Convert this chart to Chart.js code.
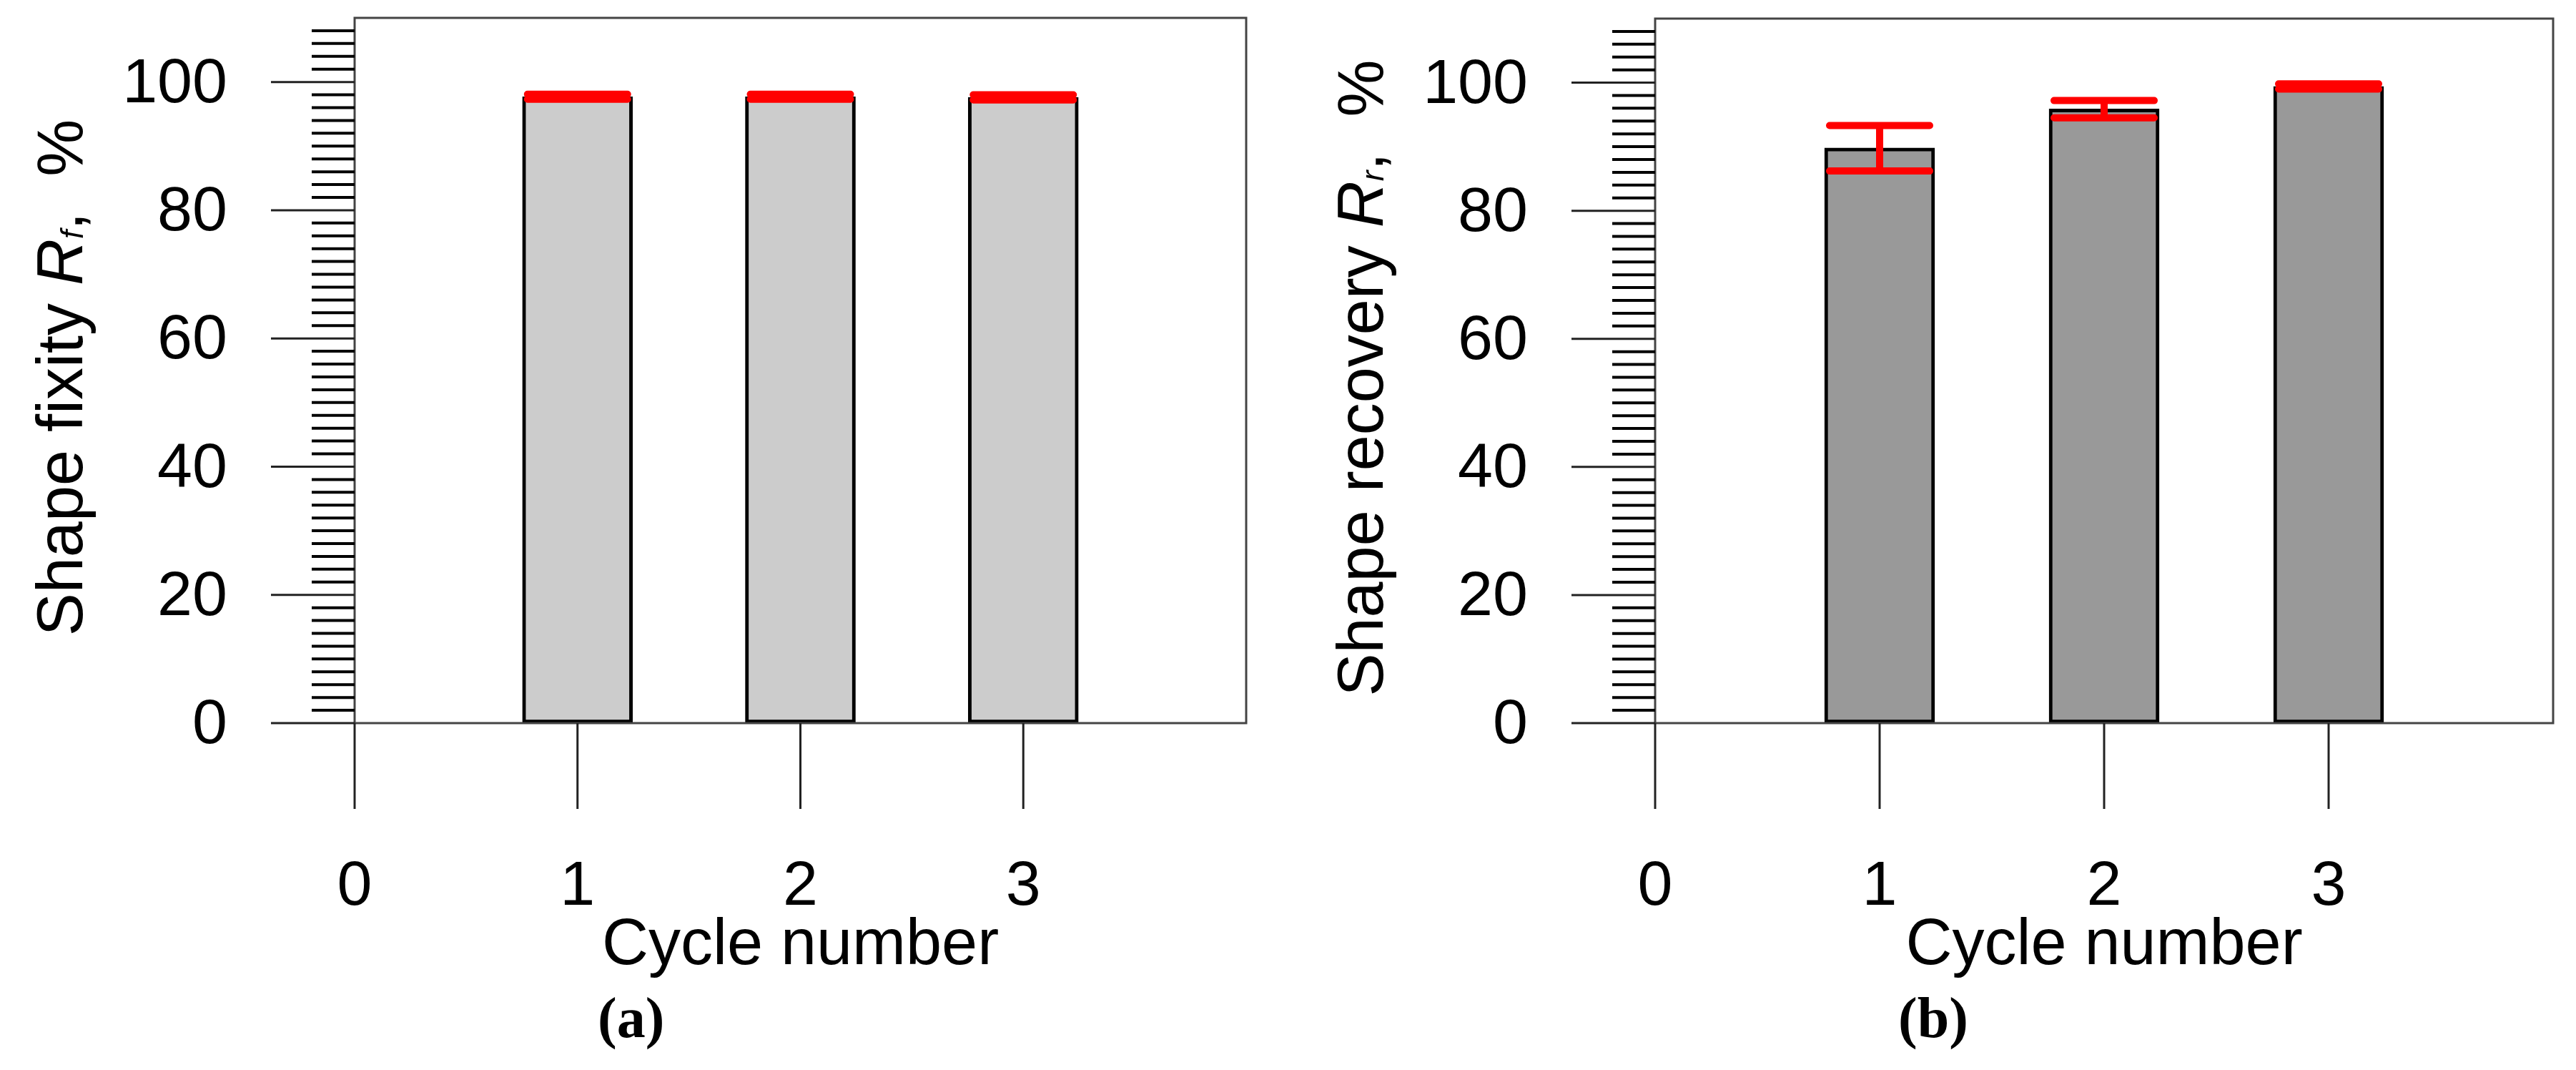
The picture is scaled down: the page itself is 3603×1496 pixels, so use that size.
<!DOCTYPE html>
<html>
<head>
<meta charset="utf-8">
<script src="https://cdn.jsdelivr.net/npm/chart.js@4.4.1/dist/chart.umd.min.js"></script>
<style>
body{margin:0;background:#fff;width:3603px;height:1496px;overflow:hidden;position:relative}
.p{position:absolute;top:0;width:1801px;height:1496px}
.cap{position:absolute;top:1378px;font:bold 80px "Liberation Serif",serif;color:#000}
</style>
</head>
<body>
<div class="p" style="left:0"><canvas id="ca"></canvas></div>
<div class="p" style="left:1801px"><canvas id="cb"></canvas></div>
<div class="cap" style="left:836px">(a)</div>
<div class="cap" style="left:2655px">(b)</div>
<script>
var cycles = [1, 2, 3];
var xTicks = [0, 1, 2, 3];
var yTicks = [0, 20, 40, 60, 80, 100];

var fixity   = [97.7, 97.7, 97.6];
var fixityLo = [97.3, 97.3, 97.2];
var fixityHi = [98.1, 98.1, 98.0];

var recovery   = [89.8, 95.9, 99.4];
var recoveryLo = [86.2, 94.5, 99.0];
var recoveryHi = [93.3, 97.2, 99.8];

var FONT = '"Liberation Sans", Arial, sans-serif';

// R-style axes, ticks, titles and error bars, drawn through the chart's scales
var rAxes = {
  id: 'rAxes',
  afterDatasetsDraw: function(chart, args, o) {
    var c = chart.ctx, x = chart.scales.x, y = chart.scales.y, a = chart.chartArea;
    var x0 = x.getPixelForValue(0), y0 = y.getPixelForValue(0);
    c.save();
    // error bars
    c.strokeStyle = '#ff0000'; c.lineWidth = 10; c.lineCap = 'round';
    for (var i = 0; i < cycles.length; i++) {
      var px = x.getPixelForValue(cycles[i]);
      var lo = y.getPixelForValue(o.lo[i]), hi = y.getPixelForValue(o.hi[i]);
      c.beginPath();
      c.moveTo(px - 70, hi); c.lineTo(px + 70, hi);
      c.moveTo(px - 70, lo); c.lineTo(px + 70, lo);
      c.moveTo(px, hi); c.lineTo(px, lo);
      c.stroke();
    }
    c.lineCap = 'butt';
    // frame
    c.strokeStyle = '#444'; c.lineWidth = 3;
    c.strokeRect(a.left, a.top, a.right - a.left, y0 - a.top);
    // minor y ticks every 2
    c.strokeStyle = '#000'; c.lineWidth = 4;
    c.beginPath();
    for (var v = 2; v <= 108; v += 2) {
      if (v % 20 === 0) continue;
      var py = y.getPixelForValue(v);
      c.moveTo(x0 - 60, py); c.lineTo(x0, py);
    }
    c.stroke();
    // major y ticks and labels
    c.lineWidth = 3; c.strokeStyle = '#222';
    c.font = '88px ' + FONT; c.fillStyle = '#000';
    c.textAlign = 'right'; c.textBaseline = 'middle';
    yTicks.forEach(function(t) {
      var py = y.getPixelForValue(t);
      c.beginPath(); c.moveTo(x0 - 117, py); c.lineTo(x0, py); c.stroke();
      c.fillText(String(t), x0 - 178, py + 4);
    });
    // x ticks and labels
    c.textAlign = 'center';
    xTicks.forEach(function(t) {
      var px = x.getPixelForValue(t);
      c.beginPath(); c.moveTo(px, y0); c.lineTo(px, y0 + 120); c.stroke();
      c.fillText(String(t), px, y0 + 230);
    });
    c.font = '90px ' + FONT;
    c.fillText('Cycle number', x.getPixelForValue(2), y0 + 312);
    // rotated y title with italic R and subscript
    c.translate(o.titleX, (a.top + y0) / 2 + 10);
    c.rotate(-Math.PI / 2);
    var parts = [
      [o.title + ' ', '90px ' + FONT, 0],
      ['R', 'italic 90px ' + FONT, 0],
      [o.sub, 'italic 44px ' + FONT, 14],
      [',  %', '90px ' + FONT, 0]
    ];
    var w = 0;
    parts.forEach(function(p) { c.font = p[1]; w += c.measureText(p[0]).width; });
    var cx = -w / 2;
    c.textAlign = 'left';
    parts.forEach(function(p) {
      c.font = p[1]; c.fillText(p[0], cx, p[2]); cx += c.measureText(p[0]).width;
    });
    c.restore();
  }
};

function panel(id, vals, lo, hi, color, pad, title, sub, titleX) {
  new Chart(document.getElementById(id), {
    type: 'bar',
    data: {
      datasets: [{
        data: cycles.map(function(c, i) { return {x: c, y: vals[i]}; }),
        backgroundColor: color,
        borderColor: '#000',
        borderWidth: 5,
        borderSkipped: false,
        barThickness: 154
      }]
    },
    options: {
      responsive: false,
      animation: false,
      devicePixelRatio: 1,
      layout: {padding: pad},
      plugins: {
        legend: {display: false},
        tooltip: {enabled: false},
        rAxes: {lo: lo, hi: hi, title: title, sub: sub, titleX: titleX}
      },
      scales: {
        x: {type: 'linear', min: 0, max: 4, display: false, offset: false},
        y: {min: 0, max: 110, display: false}
      }
    },
    plugins: [rAxes]
  });
}

var ca = document.getElementById('ca'), cb = document.getElementById('cb');
ca.width = cb.width = 1801; ca.height = cb.height = 1496;
panel('ca', fixity, fixityLo, fixityHi, '#cccccc',
  {left: 496, right: 1801 - 1743, top: 25, bottom: 1496 - 1011}, 'Shape fixity', 'f', 90);
panel('cb', recovery, recoveryLo, recoveryHi, '#999999',
  {left: 514, right: 1801 - 1770, top: 26, bottom: 1496 - 1011}, 'Shape recovery', 'r', 108);
</script>
</body>
</html>
